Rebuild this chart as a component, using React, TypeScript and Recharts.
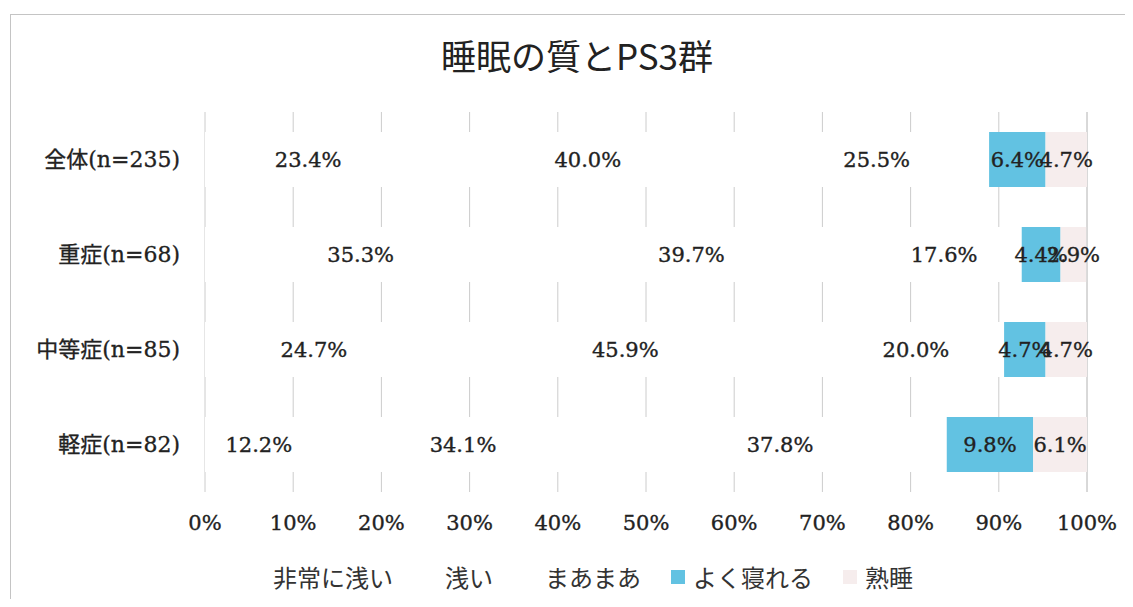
import React from 'react';
import {
  BarChart,
  Bar,
  XAxis,
  YAxis,
  CartesianGrid,
  LabelList,
} from 'recharts';

// rows, top to bottom
const categories = ['全体(n=235)', '重症(n=68)', '中等症(n=85)', '軽症(n=82)'];

const seriesNames = ['非常に浅い', '浅い', 'まあまあ', 'よく寝れる', '熟睡'];
const seriesColors = ['#ffffff', '#ffffff', '#ffffff', '#62c2e2', '#f6eded'];

// percentages per row
const veryShallow = [23.4, 35.3, 24.7, 12.2];
const shallow = [40.0, 39.7, 45.9, 34.1];
const soSo = [25.5, 17.6, 20.0, 37.8];
const sleepWell = [6.4, 4.4, 4.7, 9.8];
const deepSleep = [4.7, 2.9, 4.7, 6.1];

const xTicks = [0, 10, 20, 30, 40, 50, 60, 70, 80, 90, 100];

const seriesValues = [veryShallow, shallow, soSo, sleepWell, deepSleep];
const keys = ['s0', 's1', 's2', 's3', 's4'];

const data = categories.map((name, i) => {
  const row: Record<string, any> = { name };
  seriesValues.forEach((vals, j) => {
    row[keys[j]] = vals[i];
  });
  return row;
});

const serif = '"DejaVu Serif", "Noto Sans CJK JP", serif';
const cjk = '"Noto Sans CJK JP", "DejaVu Sans", sans-serif';
const ink = '#222';

const App: React.FC = () => {
  return (
    <div style={{ position: 'relative', width: 1117, height: 591, background: '#fff' }}>
      {/* frame */}
      <div
        style={{
          position: 'absolute',
          left: 2,
          top: 6,
          right: 0,
          bottom: 0,
          borderTop: '1px solid #c4c4c4',
          borderLeft: '1px solid #c4c4c4',
        }}
      />
      <div
        style={{
          position: 'absolute',
          left: 0,
          top: 25,
          width: 1138,
          textAlign: 'center',
          fontFamily: cjk,
          fontSize: 35,
          lineHeight: '44px',
          color: ink,
        }}
      >
        睡眠の質とPS3群
      </div>

      <div style={{ position: 'absolute', left: 0, top: 0 }}>
        <BarChart
          width={1117}
          height={530}
          data={data}
          layout="vertical"
          margin={{ top: 104, right: 38, left: 10, bottom: 0 }}
          barSize={55}
        >
          <CartesianGrid horizontal={false} stroke="#cccccc" />
          <XAxis
            type="number"
            domain={[0, 100]}
            ticks={xTicks}
            tickFormatter={(v: number) => `${v}%`}
            axisLine={false}
            tickLine={false}
            tickSize={0}
            tickMargin={23}
            height={46}
            interval={0}
            tick={{ fontSize: 21, fill: ink, fontFamily: serif, stroke: ink, strokeWidth: 0.35 }}
          />
          <YAxis
            type="category"
            dataKey="name"
            width={187}
            axisLine={false}
            tickLine={false}
            tickSize={0}
            tickMargin={25}
            tick={{ fontSize: 22, fill: ink, fontFamily: serif, stroke: ink, strokeWidth: 0.3 }}
          />
          {keys.map((k, j) => (
            <Bar
              key={k}
              dataKey={k}
              name={seriesNames[j]}
              stackId="a"
              fill={seriesColors[j]}
              isAnimationActive={false}
            >
              <LabelList
                dataKey={k}
                position="center"
                formatter={(v: any) => `${Number(v).toFixed(1)}%`}
                style={{ fontSize: 21, fill: ink, fontFamily: serif, stroke: ink, strokeWidth: 0.35 }}
              />
            </Bar>
          ))}
        </BarChart>
      </div>

      {/* legend */}
      <div
        style={{
          position: 'absolute',
          left: 0,
          top: 555,
          width: 1117,
          paddingLeft: 31,
          boxSizing: 'border-box',
          display: 'flex',
          justifyContent: 'center',
          alignItems: 'center',
          gap: 30,
          fontFamily: cjk,
          fontSize: 24,
          lineHeight: '28px',
          color: '#333',
        }}
      >
        {seriesNames.map((n, j) => (
          <div key={n} style={{ display: 'flex', alignItems: 'center' }}>
            <span
              style={{
                display: 'inline-block',
                width: 14,
                height: 14,
                background: seriesColors[j],
                marginRight: 8,
              }}
            />
            <span>{n}</span>
          </div>
        ))}
      </div>
    </div>
  );
};

export default App;
